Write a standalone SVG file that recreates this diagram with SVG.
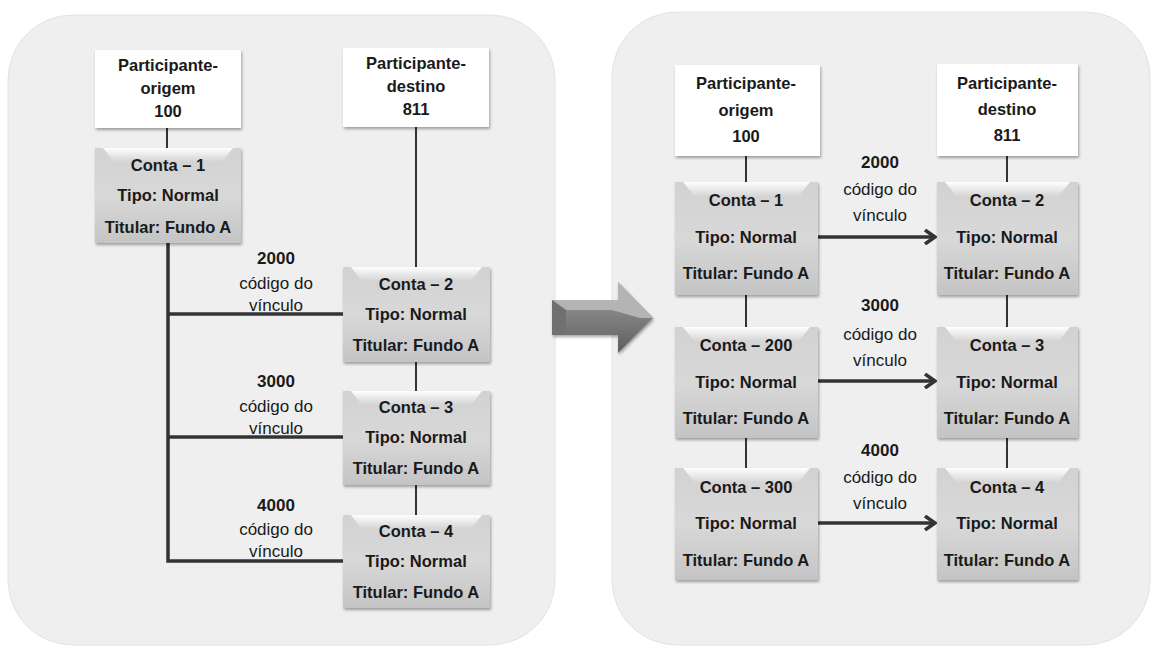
<svg xmlns="http://www.w3.org/2000/svg" width="1156" height="650" viewBox="0 0 1156 650">
<defs>
<linearGradient id="acc" x1="0" y1="0" x2="0" y2="1">
<stop offset="0" stop-color="#d2d2d2"/><stop offset="0.5" stop-color="#d8d8d8"/><stop offset="1" stop-color="#c4c4c4"/>
</linearGradient>
<linearGradient id="bev" x1="0" y1="0" x2="0" y2="1">
<stop offset="0" stop-color="#ffffff"/><stop offset="1" stop-color="#ffffff" stop-opacity="0"/>
</linearGradient>
<linearGradient id="arrF" x1="0" y1="0" x2="0" y2="1">
<stop offset="0" stop-color="#a0a0a0"/><stop offset="1" stop-color="#5e5e5e"/>
</linearGradient>
<filter id="sh" x="-10%" y="-10%" width="125%" height="130%">
<feDropShadow dx="1" dy="2" stdDeviation="1.5" flood-color="#000" flood-opacity="0.35"/>
</filter>
<marker id="ah" viewBox="0 0 14 16" refX="12" refY="8" markerWidth="14" markerHeight="16" markerUnits="userSpaceOnUse" orient="auto">
<path d="M2,1 L12,8 L2,15" fill="none" stroke="#333" stroke-width="3.5"/>
</marker>
<style>
.panel{fill:#efefef;stroke:#e2e2e2;stroke-width:1}
.part{fill:#ffffff;filter:url(#sh)}
.accb{fill:url(#acc);filter:url(#sh)}
.t{font-family:"Liberation Sans",Arial,sans-serif;font-size:16.5px;font-weight:bold;fill:#1a1a1a;text-anchor:middle}
.l{font-family:"Liberation Sans",Arial,sans-serif;font-size:17px;fill:#1a1a1a;text-anchor:middle}
.lb{font-family:"Liberation Sans",Arial,sans-serif;font-size:17px;font-weight:bold;fill:#1a1a1a;text-anchor:middle}
.c{stroke:#333;fill:none}
.thin{stroke-width:2}
.thick{stroke-width:3.5}
</style>
</defs>
<rect width="1156" height="650" fill="#ffffff"/>
<g id="panels">
<rect class="panel" x="8" y="15" width="547" height="630" rx="65"/>
<rect class="panel" x="612" y="12" width="538" height="633" rx="65"/>
</g>
<g id="bigarrow">
<polygon points="552,300 618,300 618,282 653,318 618,353 618,335 552,335" fill="url(#arrF)" filter="url(#sh)"/>
<polygon points="552,300 618,300 618,282 653,318 640,318 612,310 566,310" fill="#b4b4b4"/>
<polygon points="552,300 566,310 566,335 552,335" fill="#707070"/>
</g>
<g id="connectors">
<line class="c thin" x1="167" y1="128" x2="167" y2="148"/>
<line class="c thin" x1="416" y1="127" x2="416" y2="267"/>
<line class="c thin" x1="416" y1="362" x2="416" y2="391"/>
<line class="c thin" x1="416" y1="485" x2="416" y2="515"/>
<polyline class="c thick" points="168,243 168,561 343,561"/>
<line class="c thick" x1="168" y1="314" x2="343" y2="314"/>
<line class="c thick" x1="168" y1="437" x2="343" y2="437"/>
<line class="c thin" x1="746" y1="156" x2="746" y2="182"/>
<line class="c thin" x1="746" y1="295" x2="746" y2="327"/>
<line class="c thin" x1="746" y1="438" x2="746" y2="468"/>
<line class="c thin" x1="1007" y1="156" x2="1007" y2="182"/>
<line class="c thin" x1="1007" y1="295" x2="1007" y2="327"/>
<line class="c thin" x1="1007" y1="438" x2="1007" y2="468"/>
<line class="c thick" x1="818" y1="237" x2="935" y2="237" marker-end="url(#ah)"/>
<line class="c thick" x1="818" y1="381" x2="935" y2="381" marker-end="url(#ah)"/>
<line class="c thick" x1="818" y1="523" x2="935" y2="523" marker-end="url(#ah)"/>
</g>
<g id="labels">
<text class="lb" x="276" y="264">2000</text><text class="l" x="276" y="289">código do</text><text class="l" x="276" y="311">vínculo</text>
<text class="lb" x="276" y="387">3000</text><text class="l" x="276" y="412">código do</text><text class="l" x="276" y="434">vínculo</text>
<text class="lb" x="276" y="511">4000</text><text class="l" x="276" y="535">código do</text><text class="l" x="276" y="557">vínculo</text>
<text class="lb" x="880" y="168">2000</text><text class="l" x="880" y="195">código do</text><text class="l" x="880" y="221">vínculo</text>
<text class="lb" x="880" y="311">3000</text><text class="l" x="880" y="340">código do</text><text class="l" x="880" y="366">vínculo</text>
<text class="lb" x="880" y="456">4000</text><text class="l" x="880" y="483">código do</text><text class="l" x="880" y="509">vínculo</text>
</g>
<g id="L-orig"><rect class="part" x="95" y="50" width="146" height="78"/>
<text class="t" x="168" y="71">Participante-</text><text class="t" x="168" y="94">origem</text><text class="t" x="168" y="117">100</text></g>
<g id="L-dest"><rect class="part" x="343" y="48" width="146" height="79"/>
<text class="t" x="416" y="69">Participante-</text><text class="t" x="416" y="92">destino</text><text class="t" x="416" y="115">811</text></g>
<g id="L-c1"><rect class="accb" x="95" y="148" width="146" height="95"/><polygon points="103,148 233,148 222,162 114,162" fill="url(#bev)"/>
<text class="t" x="168" y="171">Conta – 1</text><text class="t" x="168" y="201">Tipo: Normal</text><text class="t" x="168" y="233">Titular: Fundo A</text></g>
<g id="L-c2"><rect class="accb" x="343" y="267" width="147" height="95"/><polygon points="351,267 482,267 471,281 362,281" fill="url(#bev)"/>
<text class="t" x="416" y="290">Conta – 2</text><text class="t" x="416" y="320">Tipo: Normal</text><text class="t" x="416" y="351">Titular: Fundo A</text></g>
<g id="L-c3"><rect class="accb" x="343" y="391" width="147" height="94"/><polygon points="351,391 482,391 471,405 362,405" fill="url(#bev)"/>
<text class="t" x="416" y="413">Conta – 3</text><text class="t" x="416" y="443">Tipo: Normal</text><text class="t" x="416" y="474">Titular: Fundo A</text></g>
<g id="L-c4"><rect class="accb" x="343" y="515" width="147" height="93"/><polygon points="351,515 482,515 471,529 362,529" fill="url(#bev)"/>
<text class="t" x="416" y="537">Conta – 4</text><text class="t" x="416" y="567">Tipo: Normal</text><text class="t" x="416" y="598">Titular: Fundo A</text></g>
<g id="R-orig"><rect class="part" x="675" y="65" width="145" height="91"/>
<text class="t" x="746" y="89">Participante-</text><text class="t" x="746" y="116">origem</text><text class="t" x="746" y="142">100</text></g>
<g id="R-dest"><rect class="part" x="937" y="64" width="141" height="92"/>
<text class="t" x="1007" y="89">Participante-</text><text class="t" x="1007" y="115">destino</text><text class="t" x="1007" y="141">811</text></g>
<g id="R-c1"><rect class="accb" x="675" y="182" width="143" height="113"/><polygon points="683,182 810,182 798,197 695,197" fill="url(#bev)"/>
<text class="t" x="746" y="206">Conta – 1</text><text class="t" x="746" y="243">Tipo: Normal</text><text class="t" x="746" y="279">Titular: Fundo A</text></g>
<g id="R-c2"><rect class="accb" x="937" y="182" width="141" height="113"/><polygon points="945,182 1070,182 1058,197 957,197" fill="url(#bev)"/>
<text class="t" x="1007" y="206">Conta – 2</text><text class="t" x="1007" y="243">Tipo: Normal</text><text class="t" x="1007" y="279">Titular: Fundo A</text></g>
<g id="R-c200"><rect class="accb" x="675" y="327" width="143" height="111"/><polygon points="683,327 810,327 798,342 695,342" fill="url(#bev)"/>
<text class="t" x="746" y="351">Conta – 200</text><text class="t" x="746" y="388">Tipo: Normal</text><text class="t" x="746" y="424">Titular: Fundo A</text></g>
<g id="R-c3"><rect class="accb" x="937" y="327" width="141" height="111"/><polygon points="945,327 1070,327 1058,342 957,342" fill="url(#bev)"/>
<text class="t" x="1007" y="351">Conta – 3</text><text class="t" x="1007" y="388">Tipo: Normal</text><text class="t" x="1007" y="424">Titular: Fundo A</text></g>
<g id="R-c300"><rect class="accb" x="675" y="468" width="143" height="112"/><polygon points="683,468 810,468 798,483 695,483" fill="url(#bev)"/>
<text class="t" x="746" y="493">Conta – 300</text><text class="t" x="746" y="529">Tipo: Normal</text><text class="t" x="746" y="566">Titular: Fundo A</text></g>
<g id="R-c4"><rect class="accb" x="937" y="468" width="141" height="112"/><polygon points="945,468 1070,468 1058,483 957,483" fill="url(#bev)"/>
<text class="t" x="1007" y="493">Conta – 4</text><text class="t" x="1007" y="529">Tipo: Normal</text><text class="t" x="1007" y="566">Titular: Fundo A</text></g>
</svg>
